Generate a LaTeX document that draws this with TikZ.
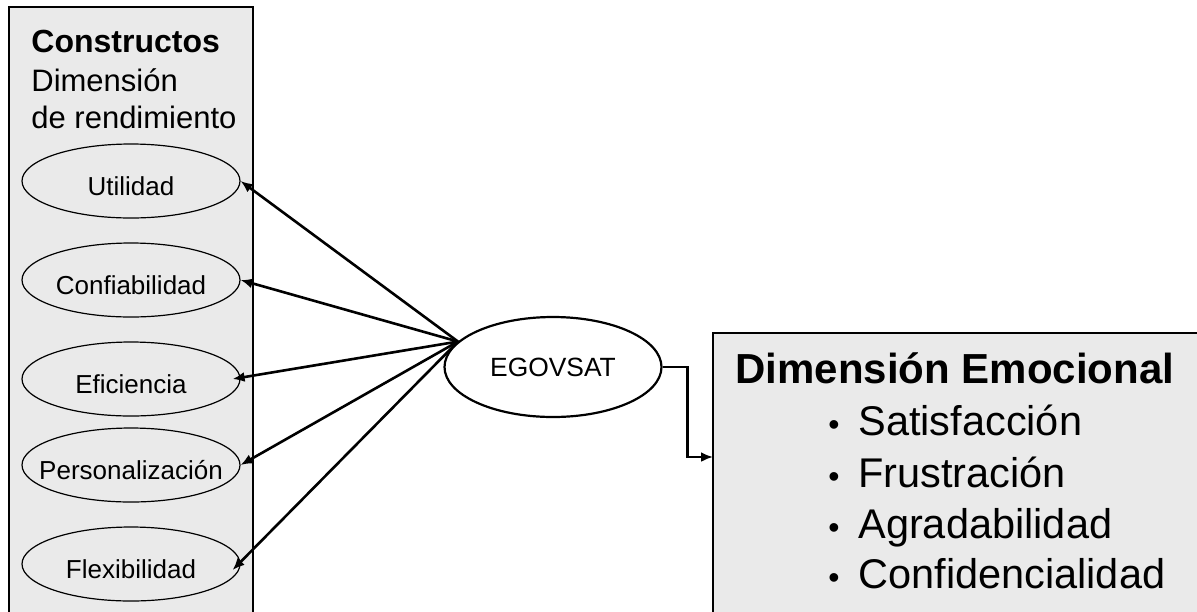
\documentclass[tikz,border=0pt]{standalone}
\usepackage{fontspec}
\setmainfont{Liberation Sans}
\usetikzlibrary{shapes.geometric,arrows.meta}
\definecolor{panel}{RGB}{234,234,234}
\tikzset{
  panelbox/.style={draw=black, line width=1pt, fill=panel},
  construct/.style={ellipse, draw=black, line width=0.6pt, inner sep=0pt,
    minimum width=109pt, minimum height=37pt,
    label={[font=\fontsize{13}{15}\selectfont, yshift=-2.5pt]center:#1}},
  hub/.style={ellipse, draw=black, line width=1.1pt, fill=white, inner sep=0pt,
    minimum width=108.5pt, minimum height=50pt, font=\fontsize{13.2}{15}\selectfont},
  txt/.style={inner sep=0pt, anchor=base west},
  link/.style={line width=1.3pt, -{Latex[length=6pt,width=5pt]}},
}
\begin{document}
\begin{tikzpicture}[x=0.5pt,y=-0.5pt]
\useasboundingbox (0,0) rectangle (1197,611);

% left panel with the performance constructs
\draw[panelbox] (9,7) rectangle (253,640);
\node[txt, font=\fontsize{16}{18}\selectfont\bfseries] (t1) at (31,52) {Constructos};
\node[txt, font=\fontsize{15.5}{18}\selectfont] (t2) at (31,91) {Dimensión};
\node[txt, font=\fontsize{15.5}{18}\selectfont] (t3) at (31,128) {de rendimiento};

\node[construct=Utilidad] (u) at (131,181) {};
\node[construct=Confiabilidad] (c) at (131,280) {};
\node[construct=Eficiencia] (e) at (131,379) {};
\node[construct=Personalización] (p) at (131,465) {};
\node[construct=Flexibilidad] (f) at (131,564) {};

% central model
\node[hub] (eg) at (553,367) {EGOVSAT};

% right panel with the emotional dimension
\draw[panelbox] (713,333) rectangle (1220,640);
\node[txt, font=\fontsize{21}{24}\selectfont\bfseries] (h) at (735,383) {Dimensión Emocional};
\foreach \y/\name/\word in {435/s1/Satisfacción, 487/s2/Frustración, 538/s3/Agradabilidad, 588/s4/Confidencialidad}{
  \node[inner sep=0pt, anchor=base, font=\fontsize{16}{18}\selectfont] (b\name) at (834,\y) {\textbullet};
  \node[txt, font=\fontsize{20.75}{24}\selectfont] (\name) at (858,\y) {\word};
}

% connectors
\coordinate (hubin) at (eg.165);
\coordinate (emoin) at (713,457);
\draw[link] (hubin) -- (u.east);
\draw[link] (hubin) -- (c.east);
\draw[link] (hubin) -- ([xshift=-4pt]e.east);
\draw[link] (hubin) -- (p.east);
\draw[link] (hubin) -- ([xshift=-4pt,yshift=-3pt]f.east);
\draw[link] (eg.east) -- ++(25,0) |- (emoin);
\end{tikzpicture}
\end{document}
